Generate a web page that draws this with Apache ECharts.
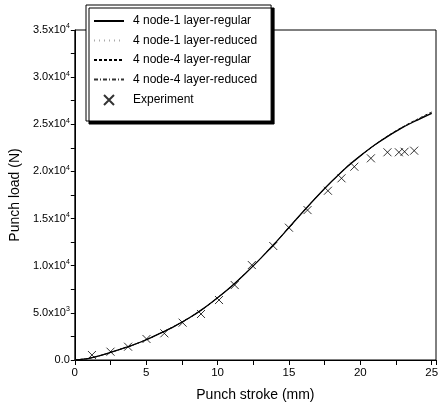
<!DOCTYPE html>
<html><head><meta charset="utf-8">
<script src="https://cdn.jsdelivr.net/npm/echarts@6/dist/echarts.min.js"></script>
<style>html,body{margin:0;padding:0;background:#fff}#c{width:444px;height:416px}</style>
</head><body><div id="c"></div>
<script>
// ---- data ----
const strokeMM = [0,1,2,3,4,5,6,7,8,9,10,11,12,13,14,15,16,17,18,19,20,21,22,23,24,25];
const reg1 = [0,180,560,1050,1550,2150,2850,3600,4450,5450,6600,7850,9250,10750,12350,14050,15750,17400,18950,20400,21650,22800,23800,24700,25450,26150];
const red1 = [0,180,560,1050,1550,2150,2850,3600,4450,5450,6600,7850,9250,10750,12350,14050,15750,17400,18950,20400,21650,22800,23800,24700,25500,26250];
const reg4 = [0,180,560,1050,1550,2150,2850,3600,4450,5450,6600,7850,9250,10750,12350,14050,15750,17400,18950,20400,21650,22800,23850,24750,25550,26300];
const red4 = [0,180,560,1050,1550,2150,2850,3600,4450,5450,6600,7850,9250,10750,12350,14050,15750,17400,18950,20400,21650,22800,23800,24700,25500,26200];
const expX = [1.2,2.5,3.73,5.02,6.27,7.55,8.84,10.1,11.2,12.4,13.9,15.0,16.3,17.73,18.68,19.58,20.74,21.9,22.7,23.1,23.77];
const expY = [530,880,1410,2230,2830,3960,4880,6360,7950,10070,12090,14030,15900,17950,19270,20500,21390,22030,22030,22090,22200];
const seriesNames = ['4 node-1 layer-regular','4 node-1 layer-reduced','4 node-4 layer-regular','4 node-4 layer-reduced','Experiment'];
const yTickValues = [0,5000,10000,15000,20000,25000,30000,35000];
const yTickMant = ['0.0','5.0','1.0','1.5','2.0','2.5','3.0','3.5'];
const yTickExp = ['', '3','4','4','4','4','4','4'];
const xTickLabels = [0,5,10,15,20,25];

const pair = (xs, ys) => xs.map((x,i)=>[x, ys[i]]);
const FONT = 'Liberation Sans, Arial, sans-serif';
const chart = echarts.init(document.getElementById('c'), null, {renderer:'canvas'});
const xPath = 'path://M0,0L10,10M10,0L0,10';
const noSym = {opacity:0};
chart.setOption({
  animation:false,
  backgroundColor:'#fff',
  textStyle:{fontFamily:FONT, color:'#000'},
  grid:{left:71, right:8, top:30, bottom:56, show:true, borderColor:'#000', borderWidth:1, backgroundColor:'transparent'},
  legend:{
    orient:'vertical', left:86, top:5,
    padding:[10,14,14,7], itemGap:7.5, itemWidth:30, itemHeight:12,
    backgroundColor:'#fff', borderColor:'#000', borderWidth:1,
    shadowColor:'#000', shadowBlur:0, shadowOffsetX:3, shadowOffsetY:3,
    textStyle:{fontFamily:FONT, fontSize:12, color:'#000', padding:[0,0,0,4]},
    data:[
      {name:seriesNames[0], itemStyle:noSym},{name:seriesNames[1], itemStyle:noSym},
      {name:seriesNames[2], itemStyle:noSym},{name:seriesNames[3], itemStyle:noSym},
      {name:seriesNames[4], icon:'path://M0,0M30,12M10,1L20,11M20,1L10,11'}
    ]
  },
  xAxis:{
    type:'value', min:0, max:25.3, interval:2.5,
    name:'Punch stroke (mm)', nameLocation:'middle', nameGap:28,
    nameTextStyle:{fontFamily:FONT, fontSize:14, color:'#000'},
    axisLine:{show:true, onZero:false, lineStyle:{color:'#000', width:1}},
    axisTick:{show:true, inside:false, length:5, lineStyle:{color:'#000'}},
    axisLabel:{fontFamily:FONT, fontSize:11.5, color:'#000', margin:7,
      formatter:v => xTickLabels.includes(v) ? String(v) : ''},
    splitLine:{show:false}
  },
  yAxis:{
    type:'value', min:0, max:35000, interval:2500,
    name:'Punch load (N)', nameLocation:'middle', nameGap:40,
    nameTextStyle:{fontFamily:FONT, fontSize:14, color:'#000'},
    axisLine:{show:true, onZero:false, lineStyle:{color:'#000', width:1}},
    axisTick:{show:true, inside:false, length:4, lineStyle:{color:'#000'}},
    axisLabel:{fontFamily:FONT, fontSize:11, color:'#000', margin:5,
      formatter:v => {
        const i = yTickValues.indexOf(v);
        if (i < 0) return '';
        if (!yTickExp[i]) return '{m|' + yTickMant[i] + '}';
        return '{m|' + yTickMant[i] + 'x10}{s|' + yTickExp[i] + '}';
      },
      rich:{m:{fontFamily:FONT, fontSize:11, color:'#000'}, s:{fontFamily:FONT, fontSize:7, color:'#000', padding:[0,0,7,0]}}
    },
    splitLine:{show:false}
  },
  series:[
    {name:seriesNames[0], type:'line', data:pair(strokeMM, reg1), smooth:0.3, showSymbol:false, symbol:'none',
      lineStyle:{color:'#000', width:1.3, type:'solid'}, itemStyle:{color:'#000'}, z:5},
    {name:seriesNames[1], type:'line', data:pair(strokeMM, red1), smooth:0.3, showSymbol:false, symbol:'none',
      lineStyle:{color:'#aaa', width:1, type:[1,4]}, itemStyle:{color:'#aaa'}, z:4},
    {name:seriesNames[2], type:'line', data:pair(strokeMM, reg4), smooth:0.3, showSymbol:false, symbol:'none',
      lineStyle:{color:'#000', width:1, type:[3,2]}, itemStyle:{color:'#000'}, z:3},
    {name:seriesNames[3], type:'line', data:pair(strokeMM, red4), smooth:0.3, showSymbol:false, symbol:'none',
      lineStyle:{color:'#333', width:1, type:[4,2,1,2]}, itemStyle:{color:'#333'}, z:3},
    {name:seriesNames[4], type:'scatter', data:pair(expX, expY), symbol:xPath, symbolSize:8,
      itemStyle:{color:'rgba(0,0,0,0)', borderColor:'#000', borderWidth:1}, z:6}
  ]
});
</script></body></html>
